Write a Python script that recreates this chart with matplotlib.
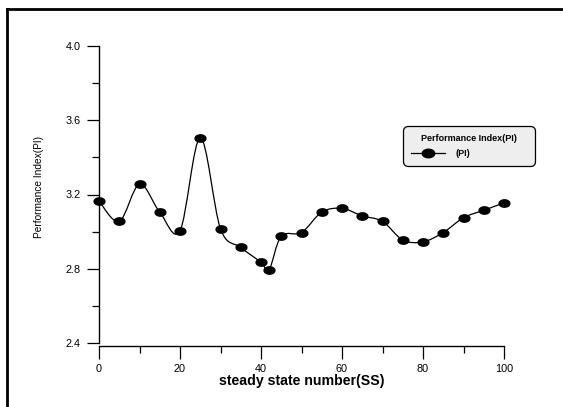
import numpy as np
import matplotlib.pyplot as plt
from matplotlib.path import Path
from matplotlib.patches import PathPatch
from matplotlib.lines import Line2D

plt.rcParams['font.family'] = ['Liberation Sans', 'DejaVu Sans']

# datos
ss = [0, 5, 10, 15, 20, 25, 30, 35, 40, 42, 45, 50, 55, 60, 65, 70, 75, 80, 85, 90, 95, 100]
pi = [3.165, 3.055, 3.255, 3.105, 3.005, 3.505, 3.015, 2.915, 2.835, 2.795, 2.975, 2.995,
      3.105, 3.125, 3.085, 3.055, 2.955, 2.945, 2.995, 3.075, 3.115, 3.155]

x_ticks = [0, 20, 40, 60, 80, 100]
y_ticks = [2.4, 2.8, 3.2, 3.6, 4.0]


def spline_path(xs, ys):
    """Curva suave (Catmull-Rom) como segmentos Bezier en coordenadas de datos."""
    pts = np.column_stack([xs, ys])
    ext = np.vstack([pts[0], pts, pts[-1]])
    verts = [pts[0]]
    codes = [Path.MOVETO]
    for i in range(1, len(ext) - 2):
        p0, p1, p2, p3 = ext[i - 1], ext[i], ext[i + 1], ext[i + 2]
        verts += [p1 + (p2 - p0) / 6, p2 - (p3 - p1) / 6, p2]
        codes += [Path.CURVE4] * 3
    return Path(verts, codes)


# marcador eliptico
t = np.linspace(0, 2 * np.pi, 40)
ellipse = list(zip(np.cos(t), 0.68 * np.sin(t)))

fig = plt.figure(figsize=(5.63, 4.07), dpi=100)
ax = fig.add_axes([99 / 563, 64 / 407, 405 / 563, 297 / 407])

ax.add_patch(PathPatch(spline_path(ss, pi), fc='none', ec='black', lw=0.9, zorder=3))
ax.plot(ss, pi, ls='none', marker=ellipse, ms=7.8, color='black', zorder=4, clip_on=False)

ax.set_xlim(0, 100)
ax.set_ylim(2.4, 4.0)
ax.set_xticks(x_ticks)
ax.set_xticks([10, 30, 50, 70, 90], minor=True)
ax.set_yticks(y_ticks)
ax.set_yticks([2.6, 3.0, 3.4, 3.8], minor=True)
ax.set_yticklabels([f"{v:.1f}" for v in y_ticks])

for s in ['top', 'right']:
    ax.spines[s].set_visible(False)
for s in ['left', 'bottom']:
    ax.spines[s].set_linewidth(1.0)
ax.spines['bottom'].set_position(('outward', 2))

ax.tick_params(which='major', direction='out', length=9, width=0.9, labelsize=7.8, pad=4)
ax.tick_params(which='minor', direction='out', length=5, width=0.9)

ax.set_xlabel('steady state number(SS)', fontsize=10.2, fontweight='bold', labelpad=0)
ax.set_ylabel('Performance Index(PI)', fontsize=7.3)
ax.yaxis.set_label_coords(-55 / 405, 0.525)

# leyenda
leg_handle = Line2D([], [], color='black', lw=0.9, marker=ellipse, ms=9)
leg = ax.legend([leg_handle], ['(PI)'], title='Performance Index(PI)',
                loc='upper left', bbox_to_anchor=(398 / 563, 246 / 407, 142 / 563, 40 / 407),
                bbox_transform=fig.transFigure, mode='expand',
                prop={'size': 6.5, 'weight': 'bold'},
                title_fontproperties={'size': 6.5, 'weight': 'bold'},
                fancybox=True, framealpha=1, facecolor='#eeeeee', edgecolor='black',
                handlelength=3.8, handletextpad=1.2, borderpad=0.9, labelspacing=0.7)
leg.get_frame().set_linewidth(0.9)
leg.get_frame().set_boxstyle('round', pad=0, rounding_size=0.6)

# marco de la figura (solo arriba e izquierda)
fig.add_artist(Line2D([7 / 563, 7 / 563], [0, 1 - 9 / 407], color='black', lw=2,
                      transform=fig.transFigure))
fig.add_artist(Line2D([7 / 563, 1], [1 - 9 / 407, 1 - 9 / 407], color='black', lw=2,
                      transform=fig.transFigure))

fig.savefig('out.png', dpi=100)
